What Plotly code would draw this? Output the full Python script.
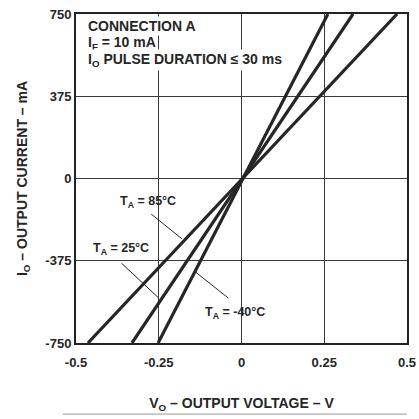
import plotly.graph_objects as go

# Data
temps = ["85°C", "25°C", "-40°C"]
v_85 = [-0.464, 0.47]
i_85 = [-750, 750]
v_25 = [-0.331, 0.337]
i_25 = [-750, 750]
v_m40 = [-0.252, 0.261]
i_m40 = [-750, 750]

x_ticks = [-0.5, -0.25, 0, 0.25, 0.5]
x_tick_text = ["-0.5", "-0.25", "0", "0.25", "0.5"]
y_ticks = [-750, -375, 0, 375, 750]
y_tick_text = ["-750", "-375", "0", "375", "750"]

FONT = "Liberation Sans, Arial, sans-serif"
INK = "#262626"

fig = go.Figure()
for v, i, t in [(v_85, i_85, temps[0]), (v_25, i_25, temps[1]), (v_m40, i_m40, temps[2])]:
    fig.add_trace(go.Scatter(x=v, y=i, mode="lines", name=t,
                             line=dict(color=INK, width=3.2), showlegend=False))

axis_common = dict(showgrid=True, gridcolor="#3a3a3a", gridwidth=1.4,
                   zeroline=True, zerolinecolor="#3a3a3a", zerolinewidth=1.4,
                   showline=True, linecolor="#222", linewidth=2, mirror=True,
                   ticks="", automargin=False,
                   tickfont=dict(family=FONT, size=13, color=INK))

fig.update_xaxes(range=[-0.5, 0.5], tickvals=x_ticks, ticktext=[f"<b>{t}</b>" for t in x_tick_text],
                 ticklabelstandoff=6,
                 title=dict(text="<b>V<sub>O</sub> – OUTPUT VOLTAGE – V</b>",
                            font=dict(family=FONT, size=14, color=INK), standoff=30),
                 **axis_common)
fig.update_yaxes(range=[-750, 750], tickvals=y_ticks, ticktext=[f"<b>{t}</b>" for t in y_tick_text],
                 title=dict(text="<b>I<sub>O</sub> – OUTPUT CURRENT – mA</b>",
                            font=dict(family=FONT, size=14, color=INK), standoff=14),
                 **axis_common)

ann_font = dict(family=FONT, size=14, color=INK)
lab_font = dict(family=FONT, size=12.5, color=INK)
annotations = [
    dict(x=-0.47, y=695, xref="x", yref="y", text="<b>CONNECTION A</b>", showarrow=False,
         xanchor="left", yanchor="middle", font=ann_font, bgcolor="white", borderpad=1),
    dict(x=-0.47, y=618, xref="x", yref="y", text="<b>I<sub>F</sub> = 10 mA</b>", showarrow=False,
         xanchor="left", yanchor="middle", font=ann_font, bgcolor="white", borderpad=1),
    dict(x=-0.47, y=540, xref="x", yref="y", text="<b>I<sub>O</sub> PULSE DURATION ≤ 30 ms</b>",
         showarrow=False, xanchor="left", yanchor="middle", font=ann_font, bgcolor="white", borderpad=1),
    dict(x=-0.281, y=-107, xref="x", yref="y", text="<b>T<sub>A</sub> = 85°C</b>", showarrow=False,
         font=lab_font),
    dict(x=-0.363, y=-322, xref="x", yref="y", text="<b>T<sub>A</sub> = 25°C</b>", showarrow=False,
         font=lab_font),
    dict(x=-0.02, y=-613, xref="x", yref="y", text="<b>T<sub>A</sub> = -40°C</b>", showarrow=False,
         font=lab_font),
]
# leader lines
for (x0, y0, x1, y1) in [(-0.277, -157, -0.18, -275), (-0.367, -380, -0.25, -545), (-0.035, -551, -0.14, -425)]:
    annotations.append(dict(x=x1, y=y1, ax=x0, ay=y0, xref="x", yref="y", axref="x", ayref="y",
                            text="", showarrow=True, arrowhead=0, arrowwidth=1, arrowcolor=INK))

fig.update_layout(
    width=419, height=419,
    margin=dict(l=76, r=12, t=14, b=76),
    paper_bgcolor="white", plot_bgcolor="white",
    annotations=annotations,
    shapes=[dict(type="line", xref="paper", yref="paper", x0=-0.04, x1=1.0, y0=-0.216, y1=-0.216,
                 line=dict(color="#999", width=1))],
)

fig.write_html("out.html", config={"displayModeBar": False},
               post_script="document.body.style.margin='0';document.body.style.overflow='hidden';")
